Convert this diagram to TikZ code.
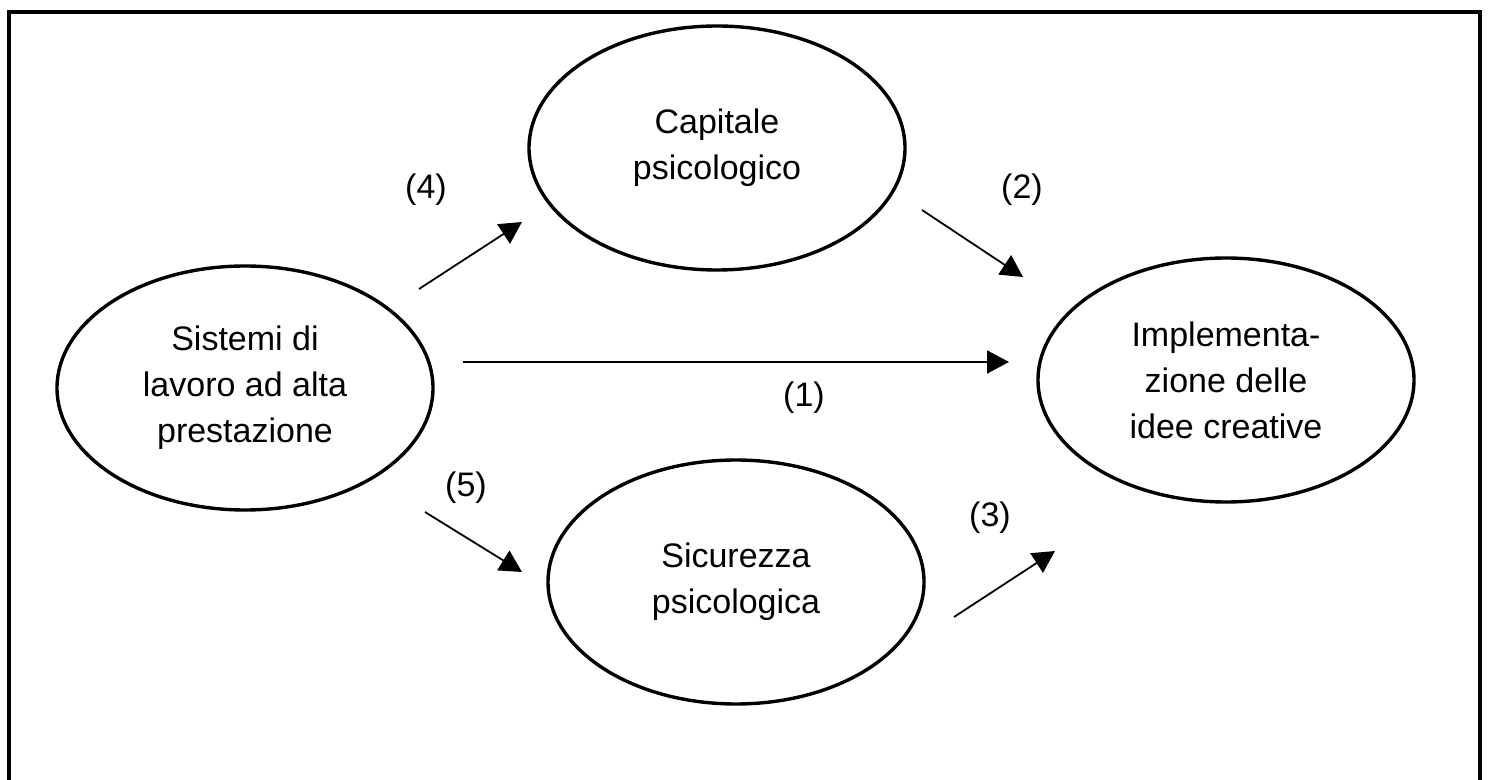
\documentclass[tikz,border=0pt]{standalone}
\usepackage{fontspec}
\setmainfont{Liberation Sans}
\usetikzlibrary{shapes.geometric,arrows.meta}

\begin{document}
\begin{tikzpicture}
 [x=0.5pt,y=-0.5pt,
  every node/.style={font=\fontsize{17}{23}\selectfont,align=center},
  construct/.style={ellipse,draw,line width=1.7pt,minimum width=188pt,minimum height=122pt,inner sep=0pt},
  path/.style={line width=0.9pt,-{Triangle[length=11pt,width=11.5pt]}}]
  \useasboundingbox (0,0) rectangle (1488,780);
  \draw[line width=1.8pt] (9,780) -- (9,12) -- (1480,12) -- (1480,780);
  % constructs
  \node[construct] (hpws) at (245,388) {Sistemi di\\lavoro ad alta\\prestazione};
  \node[construct] (capitale) at (717,148) {Capitale\\psicologico};
  \node[construct] (sicurezza) at (736,582) {Sicurezza\\psicologica};
  \node[construct] (idee) at (1226,380) {Implementa-\\zione delle\\idee creative};
  % free ends of the paths
  \coordinate (p4a) at (419,289);  \coordinate (p4b) at (522,222);
  \coordinate (p2a) at (922,210);  \coordinate (p2b) at (1023,277);
  \coordinate (p1a) at (463,362);  \coordinate (p1b) at (1009,362);
  \coordinate (p5a) at (425,512);  \coordinate (p5b) at (522,572);
  \coordinate (p3a) at (954,617);  \coordinate (p3b) at (1055,551);
  \foreach \from/\to in {p4a/p4b,p2a/p2b,p1a/p1b,p5a/p5b,p3a/p3b}
    \draw[path] (\from) -- (\to);
  % labels
  \node (l4) at (426,190) {(4)};
  \node (l2) at (1022,190) {(2)};
  \node (l1) at (804,398) {(1)};
  \node (l5) at (466,488) {(5)};
  \node (l3) at (990,518) {(3)};
\end{tikzpicture}
\end{document}
